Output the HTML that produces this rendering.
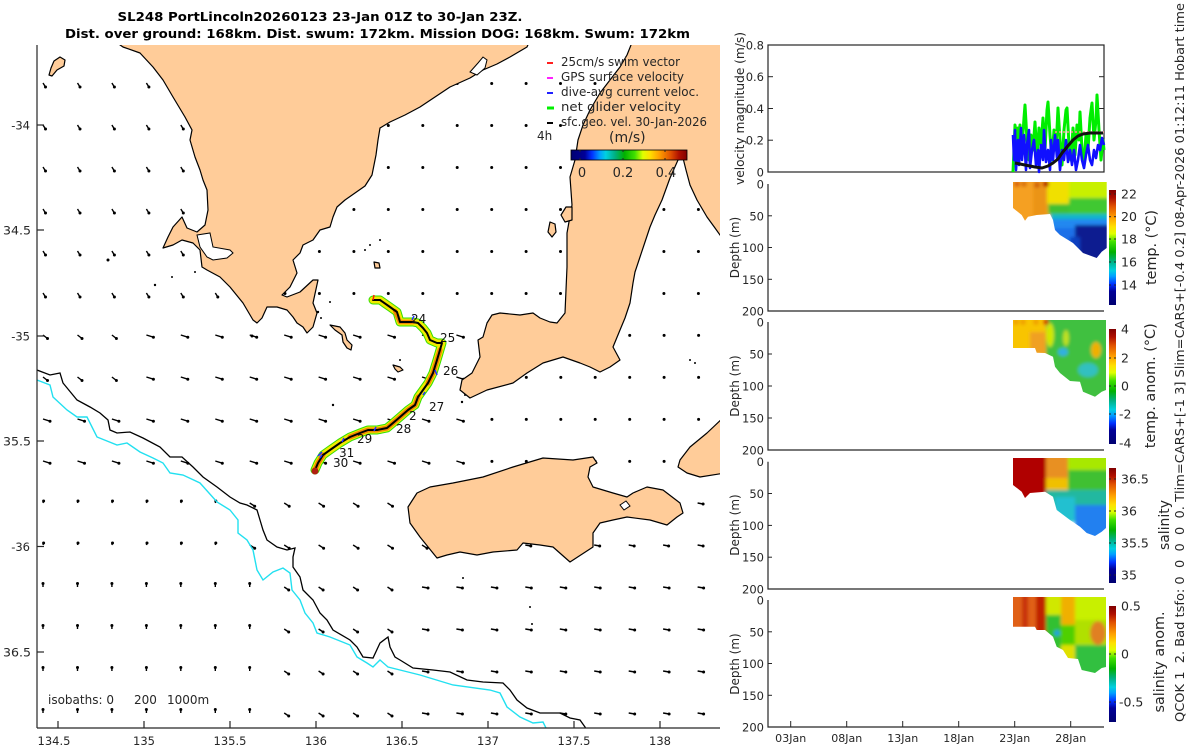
<!DOCTYPE html>
<html><head><meta charset="utf-8"><style>
html,body{margin:0;padding:0;background:#fff;}
svg{display:block;font-family:"DejaVu Sans","Liberation Sans",sans-serif;}
</style></head><body>
<svg width="1200" height="750" viewBox="0 0 1200 750" xmlns="http://www.w3.org/2000/svg">
<defs>
<linearGradient id="jetH" x1="0" x2="1" y1="0" y2="0">
<stop offset="0" stop-color="#000070"/><stop offset="0.12" stop-color="#000098"/><stop offset="0.18" stop-color="#0030ff"/><stop offset="0.25" stop-color="#00a0ff"/><stop offset="0.3" stop-color="#00d0e0"/><stop offset="0.38" stop-color="#00b080"/><stop offset="0.46" stop-color="#00b000"/><stop offset="0.55" stop-color="#40e000"/><stop offset="0.62" stop-color="#e0ff00"/><stop offset="0.68" stop-color="#ffe000"/><stop offset="0.76" stop-color="#ffa000"/><stop offset="0.86" stop-color="#e05000"/><stop offset="0.93" stop-color="#b01000"/><stop offset="1" stop-color="#800000"/>
</linearGradient>
<linearGradient id="jetV" x1="0" x2="0" y1="1" y2="0">
<stop offset="0" stop-color="#000070"/><stop offset="0.12" stop-color="#000098"/><stop offset="0.18" stop-color="#0030ff"/><stop offset="0.25" stop-color="#00a0ff"/><stop offset="0.3" stop-color="#00d0e0"/><stop offset="0.38" stop-color="#00b080"/><stop offset="0.46" stop-color="#00b000"/><stop offset="0.55" stop-color="#40e000"/><stop offset="0.62" stop-color="#e0ff00"/><stop offset="0.68" stop-color="#ffe000"/><stop offset="0.76" stop-color="#ffa000"/><stop offset="0.86" stop-color="#e05000"/><stop offset="0.93" stop-color="#b01000"/><stop offset="1" stop-color="#800000"/>
</linearGradient>
<clipPath id="mapclip"><rect x="37" y="45" width="683" height="683"/></clipPath>
<filter id="bl" x="-20%" y="-20%" width="140%" height="140%"><feGaussianBlur stdDeviation="1.6"/></filter>
<clipPath id="cT"><polygon points="1013,182 1013,208 1021.7,215 1025,220.7 1028,216.7 1036.7,215 1050,214 1053,220 1055,230 1060,235 1073,243 1083,253 1096.7,258 1101.7,251.7 1106.7,248 1106.7,182"/></clipPath>
<clipPath id="cTA"><polygon points="1013,320 1013,348 1035,348 1036.7,352.7 1045,353 1053,356.7 1055,366.7 1060,373 1070,381 1080,381.7 1083,391.7 1095,396.7 1101.7,391.7 1106,390 1106,320"/></clipPath>
<clipPath id="cS"><polygon points="1013,458 1013,485 1021.7,491.7 1025,498 1030,493 1045,491.7 1053,496.7 1056.7,510 1070,520 1080,526.7 1086.7,533 1095,536 1101.7,531.7 1106,528 1106,458"/></clipPath>
<clipPath id="cSA"><polygon points="1013,597 1013,626.7 1035,626.7 1036.7,630 1045,630 1053,636.7 1056.7,646.7 1063,650 1068,658 1078,659 1081.7,670 1095,673 1101.7,668 1106,667 1106,597"/></clipPath>
</defs>

<!-- Title -->
<text x="320" y="21" font-size="12.5" font-weight="bold" text-anchor="middle" fill="#000" textLength="405" lengthAdjust="spacingAndGlyphs">SL248 PortLincoln20260123 23-Jan 01Z to 30-Jan 23Z.</text>
<text x="377.5" y="38" font-size="12.5" font-weight="bold" text-anchor="middle" fill="#000" textLength="625" lengthAdjust="spacingAndGlyphs">Dist. over ground: 168km. Dist. swum: 172km. Mission DOG: 168km. Swum: 172km</text>

<!-- MAP -->
<g clip-path="url(#mapclip)">
<g id="arrows" stroke="#000" stroke-width="1.4" fill="#000"></g>

<g fill="#ffcc99" stroke="#000" stroke-width="1.2" stroke-linejoin="round">
<polygon points="113,40 530,40 527,47 510,57 497,64 483,70 470,78 450,87 435,97 420,107 405,115 390,122 380,128 378,140 376,155 372,175 365,186 355,193 345,200 337,207 333,217 330,227 320,230 313,240 303,245 300,253 293,260 297,273 290,287 282,295 287,297 300,292 313,280 318,280 313,303 317,313 313,327 307,333 303,327 297,323 293,317 287,310 277,307 267,307 262,318 257,323 253,320 243,303 230,287 220,277 207,270 202,267 200,250 193,243 182,240 173,245 163,248 168,237 173,227 182,217 187,228 197,232 205,225 208,210 207,190 203,180 200,170 195,157 190,140 192,130 185,117 173,97 163,80 153,67 140,53 123,47"/>
<polygon points="633,40 725,40 725,242 715,228 707,217 697,200 690,185 686,170 683,158 678,160 670,178 662,200 655,215 650,227 645,242 640,257 635,272 633,283 630,303 625,318 620,330 613,347 620,360 610,367 600,372 590,367 580,363 563,357 543,363 527,373 513,383 487,390 470,398 460,390 462,380 472,373 480,357 478,340 483,337 487,323 492,315 500,313 520,315 533,313 540,318 550,322 557,323 565,313 566,290 567,267 567,233 572,205 570,177 575,160 578,140 583,125 590,110 600,93 610,80 620,67 627,55"/>
<polygon points="725,416 707,433 690,447 680,460 678,467 687,473 700,477 725,473"/>
<polygon points="417,493 430,487 453,483 483,477 513,467 543,458 573,460 593,457 597,463 590,467 588,477 593,487 613,493 627,497 633,493 647,487 663,490 680,503 683,513 677,517 667,525 650,520 627,517 613,520 600,523 593,533 593,547 570,562 553,547 540,545 523,543 517,550 493,552 477,555 460,552 447,555 437,558 420,537 410,523 408,507"/>
<polygon points="60,57 65,60 64,66 57,70 52,76 49,75 51,68 54,61"/>
<polygon points="330,325 340,327 345,333 347,340 352,345 351,350 347,348 343,342 342,335 335,330"/>
<polygon points="393,365 400,367 403,370 398,372 395,369"/>
<polygon points="550,222 555,224 556,232 552,237 548,232"/>
<polygon points="561,215 566,207 572,207 572,220 565,222"/>
<polygon points="374,262 379,263 380,268 375,268"/>
</g>
<polygon points="197,235 210,233 213,247 230,250 233,253 227,258 213,260 207,257 200,247" fill="#fff" stroke="#000" stroke-width="1"/>
<polygon points="470,72 478,63 483,57 487,60 485,68 477,75" fill="#fff" stroke="#000" stroke-width="1"/>
<polygon points="620,505 626,501 630,506 624,510" fill="#fff" stroke="#000" stroke-width="1"/>
<g fill="#000">
<circle cx="318" cy="312" r="1.2"/><circle cx="321" cy="318" r="1"/><circle cx="330" cy="302" r="1"/><circle cx="365" cy="250" r="1"/><circle cx="370" cy="245" r="1"/><circle cx="380" cy="240" r="1"/><circle cx="333" cy="405" r="1.2"/><circle cx="400" cy="360" r="1"/><circle cx="462" cy="402" r="1.2"/><circle cx="465" cy="395" r="1"/><circle cx="155" cy="285" r="1.2"/><circle cx="172" cy="277" r="1"/><circle cx="195" cy="272" r="1"/><circle cx="108" cy="260" r="1.5"/><circle cx="252" cy="336" r="1.5"/><circle cx="530" cy="607" r="1"/><circle cx="532" cy="624" r="1"/><circle cx="463" cy="578" r="1"/><circle cx="690" cy="360" r="1"/><circle cx="695" cy="363" r="1"/>
</g>

<polyline fill="none" stroke="#000" stroke-width="1.3" points="30,368 37,370 50,375 60,373 63,383 77,400 90,407 100,413 108,420 110,430 117,433 130,432 143,438 160,447 170,457 182,457 193,467 203,477 217,487 230,497 240,503 247,505 257,510 260,520 263,530 267,540 277,547 287,550 295,548 293,557 293,567 300,577 303,590 313,600 320,613 327,620 333,630 350,640 357,647 363,657 373,658 380,643 388,637 390,647 395,657 400,660 413,668 433,670 450,672 467,680 483,682 503,683 510,690 517,700 527,708 540,713 553,713 560,713 570,718 580,720 585,727 590,735"/>
<polyline fill="none" stroke="#22e0f0" stroke-width="1.4" points="30,377 37,380 50,385 53,397 67,410 77,417 87,417 97,437 117,445 127,443 140,452 153,458 163,463 170,473 183,475 200,483 217,502 230,510 238,520 238,533 247,540 253,550 257,570 263,580 273,572 283,568 290,573 292,590 300,600 305,613 313,623 317,633 330,637 350,645 357,657 367,663 373,667 380,660 388,667 400,670 420,675 453,685 490,690 500,693 507,707 520,717 533,723 543,722 547,730"/>

<g fill="none" stroke-linejoin="round" stroke-linecap="round">
<polyline stroke="#30e000" stroke-width="9" points="373,300 380,300 390,307 397,312 400,322 405,322 413,322 418,323 423,328 427,333 430,340 437,343 442,343 437,360 433,373 428,383 423,390 418,397 415,405 408,410 400,417 393,423 387,428 377,430 368,430 360,433 350,437 340,443 330,450 323,455 318,463 315,470"/>
<polyline stroke="#f2e800" stroke-width="7" points="373,300 380,300 390,307 397,312 400,322 405,322 413,322 418,323 423,328 427,333 430,340 437,343 442,343 437,360 433,373 428,383 423,390 418,397 415,405 408,410 400,417 393,423 387,428 377,430 368,430 360,433 350,437 340,443 330,450 323,455 318,463 315,470"/>
<polyline stroke="#f08a00" stroke-width="4.5" points="395,311 400,322 405,322 413,322"/>
<polyline stroke="#f08a00" stroke-width="5" points="440,350 437,360 433,373 428,383"/>
<polyline stroke="#f08a00" stroke-width="5" points="418,397 415,405 408,410 400,417 393,423 387,428 377,430 368,430 360,433 350,437"/>
<polyline stroke="#f08a00" stroke-width="5" points="323,455 318,463 315,470"/>
<polyline stroke="#000" stroke-width="2" points="373,300 380,300 390,307 397,312 400,322 405,322 413,322 418,323 423,328 427,333 430,340 437,343 442,343 437,360 433,373 428,383 423,390 418,397 415,405 408,410 400,417 393,423 387,428 377,430 368,430 360,433 350,437 340,443 330,450 323,455 318,463 315,470"/>
</g>
<circle cx="315" cy="471" r="3.5" fill="#b02010"/>
<line x1="373" y1="300" x2="374" y2="295" stroke="#ff2000" stroke-width="1.5"/>
<g stroke="#2030ff" stroke-width="1.5"><line x1="412" y1="320" x2="414" y2="316"/><line x1="435" y1="370" x2="437" y2="375"/><line x1="423" y1="395" x2="425" y2="392"/><line x1="374" y1="431" x2="376" y2="427"/><line x1="342" y1="442" x2="344" y2="438"/><line x1="320" y1="458" x2="322" y2="455"/><line x1="318" y1="456" x2="322" y2="452"/></g>
<g font-size="12" fill="#111">
<text x="411" y="323">24</text><text x="440" y="342">25</text><text x="443" y="375">26</text><text x="429" y="411">27</text><text x="409" y="420">2</text><text x="396" y="433">28</text><text x="357" y="443">29</text><text x="339" y="457">31</text><text x="333" y="467">30</text>
</g>

<g font-size="12" fill="#262626">
<text x="561" y="66" textLength="119" lengthAdjust="spacingAndGlyphs">25cm/s swim vector</text>
<text x="561" y="81" textLength="123" lengthAdjust="spacingAndGlyphs">GPS surface velocity</text>
<text x="561" y="96" textLength="138" lengthAdjust="spacingAndGlyphs">dive-avg current veloc.</text>
<text x="561" y="111" textLength="120" lengthAdjust="spacingAndGlyphs">net glider velocity</text>
<text x="561" y="126" textLength="146" lengthAdjust="spacingAndGlyphs">sfc.geo. vel. 30-Jan-2026</text>
<text x="537" y="140">4h</text>
<text x="609" y="142" font-size="14">(m/s)</text>
</g>
<g stroke-width="2"><line x1="547" y1="63" x2="553" y2="63" stroke="#ff2020"/><line x1="547" y1="78" x2="553" y2="78" stroke="#ff20ff"/><line x1="547" y1="93" x2="553" y2="93" stroke="#2020ff"/><line x1="547" y1="108" x2="554" y2="108" stroke="#00f000" stroke-width="3"/><line x1="547" y1="123" x2="553" y2="123" stroke="#000"/></g>
<rect x="571" y="150" width="116" height="10" fill="url(#jetH)" stroke="#000" stroke-width="0.8"/>
<g stroke="#262626" stroke-width="1"><line x1="580" y1="150" x2="580" y2="152"/><line x1="623" y1="150" x2="623" y2="152"/><line x1="665" y1="150" x2="665" y2="152"/><line x1="580" y1="160" x2="580" y2="158"/><line x1="623" y1="160" x2="623" y2="158"/><line x1="665" y1="160" x2="665" y2="158"/></g>
<g font-size="13" fill="#262626" text-anchor="middle"><text x="582" y="177">0</text><text x="623" y="177">0.2</text><text x="666" y="177">0.4</text></g>

<g font-size="12" fill="#262626"><text x="48" y="704">isobaths: 0</text><text x="134" y="704">200</text><text x="167" y="704">1000m</text></g>
</g>

<g stroke="#262626" stroke-width="1.2">
<line x1="37" y1="45" x2="37" y2="728"/><line x1="37" y1="728" x2="720" y2="728"/>
<line x1="37" y1="125" x2="44" y2="125"/><line x1="37" y1="230" x2="44" y2="230"/><line x1="37" y1="336" x2="44" y2="336"/><line x1="37" y1="441" x2="44" y2="441"/><line x1="37" y1="546.5" x2="44" y2="546.5"/><line x1="37" y1="652" x2="44" y2="652"/>
<line x1="58" y1="728" x2="58" y2="721"/><line x1="144" y1="728" x2="144" y2="721"/><line x1="230" y1="728" x2="230" y2="721"/><line x1="316" y1="728" x2="316" y2="721"/><line x1="402" y1="728" x2="402" y2="721"/><line x1="488" y1="728" x2="488" y2="721"/><line x1="574" y1="728" x2="574" y2="721"/><line x1="660" y1="728" x2="660" y2="721"/>
</g>
<g font-size="11.5" fill="#262626">
<text x="30" y="129.5" text-anchor="end">-34</text>
<text x="3" y="234.5" textLength="28" lengthAdjust="spacingAndGlyphs">34.5</text>
<text x="30" y="340.5" text-anchor="end">-35</text>
<text x="3" y="445.5" textLength="28" lengthAdjust="spacingAndGlyphs">35.5</text>
<text x="30" y="551" text-anchor="end">-36</text>
<text x="3" y="656.5" textLength="28" lengthAdjust="spacingAndGlyphs">36.5</text>
</g>
<g font-size="11.5" fill="#262626" text-anchor="middle">
<text x="54" y="745">134.5</text><text x="144" y="745">135</text><text x="230" y="745">135.5</text><text x="316" y="745">136</text><text x="402" y="745">136.5</text><text x="488" y="745">137</text><text x="574" y="745">137.5</text><text x="660" y="745">138</text>
</g>

<!-- RIGHT PANELS -->
<rect x="768" y="45" width="336" height="127" fill="none" stroke="#262626" stroke-width="1.2"/>
<g stroke="#262626" stroke-width="1"><line x1="768" y1="140.2" x2="773" y2="140.2"/><line x1="768" y1="108.5" x2="773" y2="108.5"/><line x1="768" y1="76.7" x2="773" y2="76.7"/><line x1="1104" y1="140.2" x2="1099" y2="140.2"/><line x1="1104" y1="108.5" x2="1099" y2="108.5"/><line x1="1104" y1="76.7" x2="1099" y2="76.7"/></g>
<g font-size="11.5" fill="#262626" text-anchor="end"><text x="764" y="49.5">0.8</text><text x="764" y="81.2">0.6</text><text x="764" y="113">0.4</text><text x="764" y="144.7">0.2</text><text x="764" y="176.5">0</text></g>
<text transform="translate(744,108.5) rotate(-90)" font-size="12" fill="#262626" text-anchor="middle" textLength="153" lengthAdjust="spacingAndGlyphs">velocity magnitude (m/s)</text>
<polyline fill="none" stroke="#00ee00" stroke-width="3" stroke-linejoin="round" points="1013,172 1014,150 1015,125 1017,140 1018,128 1019,152 1020,125 1022,148 1024,118 1025,105 1027,140 1029,160 1031,135 1033,150 1035,122 1037,158 1039,128 1041,145 1043,118 1045,150 1047,110 1048,102 1050,135 1052,160 1054,130 1056,150 1058,108 1060,140 1062,165 1064,130 1066,110 1067,108 1069,145 1071,160 1073,128 1075,155 1077,125 1079,140 1080,112 1082,150 1084,162 1086,135 1088,150 1090,118 1092,103 1094,140 1096,120 1097,95 1099,130 1101,160 1103,140 1104,150"/>
<line x1="1055" y1="132" x2="1104" y2="132" stroke="#ff9090" stroke-width="1.5" stroke-dasharray="2,2"/>
<polyline fill="none" stroke="#1010ff" stroke-width="2.6" stroke-linejoin="round" points="1013,135 1014,160 1015,130 1016,170 1018,140 1019,165 1021,128 1022,160 1024,135 1026,170 1027,145 1029,130 1030,168 1032,150 1034,140 1036,165 1038,150 1039,172 1041,145 1043,160 1044,130 1046,162 1048,150 1050,170 1051,140 1053,160 1055,135 1057,158 1058,140 1060,170 1062,150 1064,160 1066,140 1068,162 1070,150 1072,165 1074,150 1076,170 1078,160 1080,145 1082,160 1084,168 1086,155 1088,145 1090,160 1092,165 1094,150 1096,158 1098,145 1100,150 1102,138 1104,145"/>
<polyline fill="none" stroke="#111" stroke-width="3" stroke-linejoin="round" points="1015,163 1025,165 1035,167 1042,168 1048,166 1053,163 1058,159 1062,153 1067,147 1073,140 1078,136 1083,134 1090,133 1103,133"/>

<g stroke="#262626" stroke-width="1.2" fill="none">
<polyline points="768,184 768,311 1104,311"/>
<polyline points="768,322 768,450 1104,450"/>
<polyline points="768,461.7 768,589 1104,589"/>
<polyline points="768,600 768,727 1104,727"/>
</g>
<g stroke="#262626" stroke-width="1">
<line x1="768" y1="215.8" x2="772" y2="215.8"/><line x1="768" y1="247.5" x2="772" y2="247.5"/><line x1="768" y1="279.3" x2="772" y2="279.3"/>
<line x1="768" y1="354" x2="772" y2="354"/><line x1="768" y1="386" x2="772" y2="386"/><line x1="768" y1="418" x2="772" y2="418"/>
<line x1="768" y1="493.5" x2="772" y2="493.5"/><line x1="768" y1="525.4" x2="772" y2="525.4"/><line x1="768" y1="557.2" x2="772" y2="557.2"/>
<line x1="768" y1="631.8" x2="772" y2="631.8"/><line x1="768" y1="663.5" x2="772" y2="663.5"/><line x1="768" y1="695.3" x2="772" y2="695.3"/>
<line x1="790.7" y1="727" x2="790.7" y2="721"/><line x1="846.7" y1="727" x2="846.7" y2="721"/><line x1="902.7" y1="727" x2="902.7" y2="721"/><line x1="958.7" y1="727" x2="958.7" y2="721"/><line x1="1014.7" y1="727" x2="1014.7" y2="721"/><line x1="1070.7" y1="727" x2="1070.7" y2="721"/>
</g>
<g font-size="11.5" fill="#262626" text-anchor="end">
<text x="764" y="188.5">0</text><text x="764" y="220.3">50</text><text x="764" y="252">100</text><text x="764" y="283.8">150</text><text x="764" y="315.5">200</text>
<text x="764" y="326.5">0</text><text x="764" y="358.5">50</text><text x="764" y="390.5">100</text><text x="764" y="422.5">150</text><text x="764" y="454.5">200</text>
<text x="764" y="466.2">0</text><text x="764" y="498">50</text><text x="764" y="529.9">100</text><text x="764" y="561.7">150</text><text x="764" y="593.5">200</text>
<text x="764" y="604.5">0</text><text x="764" y="636.3">50</text><text x="764" y="668">100</text><text x="764" y="699.8">150</text><text x="764" y="731.5">200</text>
</g>
<g font-size="12" fill="#262626" text-anchor="middle">
<text transform="translate(739,247.5) rotate(-90)">Depth (m)</text>
<text transform="translate(739,386) rotate(-90)">Depth (m)</text>
<text transform="translate(739,525) rotate(-90)">Depth (m)</text>
<text transform="translate(739,664) rotate(-90)">Depth (m)</text>
</g>
<g font-size="11" fill="#262626" text-anchor="middle">
<text x="790.7" y="742" textLength="31" lengthAdjust="spacingAndGlyphs">03Jan</text><text x="846.7" y="742" textLength="31" lengthAdjust="spacingAndGlyphs">08Jan</text><text x="902.7" y="742" textLength="31" lengthAdjust="spacingAndGlyphs">13Jan</text><text x="958.7" y="742" textLength="31" lengthAdjust="spacingAndGlyphs">18Jan</text><text x="1014.7" y="742" textLength="31" lengthAdjust="spacingAndGlyphs">23Jan</text><text x="1070.7" y="742" textLength="31" lengthAdjust="spacingAndGlyphs">28Jan</text>
</g>

<g clip-path="url(#cT)"><g filter="url(#bl)">
<rect x="1000" y="170" width="120" height="100" fill="#f5a020"/>
<rect x="1033" y="170" width="14" height="50" fill="#eb9418"/>
<rect x="1047" y="170" width="22" height="34" fill="#f0e000"/>
<rect x="1069" y="170" width="50" height="28" fill="#c8f000"/>
<rect x="1048" y="204" width="22" height="10" fill="#40c030"/>
<rect x="1069" y="198" width="50" height="17" fill="#40c830"/>
<rect x="1050" y="214" width="70" height="6" fill="#10b8c8"/>
<rect x="1050" y="219" width="70" height="12" fill="#2088f0"/>
<rect x="1053" y="228" width="22" height="20" fill="#1a70e8"/>
<rect x="1075" y="225" width="45" height="45" fill="#0a1a90"/>
<rect x="1070" y="237" width="10" height="15" fill="#1040c0"/>
<circle cx="1017" cy="184" r="3" fill="#d86010"/><circle cx="1024" cy="184" r="3" fill="#d87010"/><circle cx="1037" cy="185" r="3" fill="#d06010"/><circle cx="1046" cy="184" r="3" fill="#b01000"/>
</g></g>
<g clip-path="url(#cTA)"><g filter="url(#bl)">
<rect x="1000" y="310" width="47" height="60" fill="#f8c400"/>
<rect x="1030" y="332" width="16" height="25" fill="#f0a020"/>
<rect x="1046" y="310" width="80" height="100" fill="#40c040"/>
<ellipse cx="1050" cy="335" rx="4" ry="12" fill="#d0e800"/>
<ellipse cx="1066" cy="338" rx="3" ry="8" fill="#c0e020"/>
<ellipse cx="1096" cy="350" rx="5" ry="8" fill="#f0b000"/>
<ellipse cx="1063" cy="352" rx="5" ry="4" fill="#30b0e0"/>
<ellipse cx="1088" cy="370" rx="10" ry="7" fill="#30c0c0"/>
<circle cx="1016" cy="322" r="3" fill="#f0a000"/><circle cx="1023" cy="322" r="3" fill="#f0a000"/><circle cx="1036" cy="322" r="3" fill="#f0a000"/><circle cx="1046" cy="322" r="3" fill="#d04000"/>
</g></g>
<g clip-path="url(#cS)"><g filter="url(#bl)">
<rect x="1000" y="450" width="46" height="90" fill="#b00000"/>
<rect x="1046" y="450" width="22" height="28" fill="#e89020"/>
<rect x="1046" y="478" width="22" height="16" fill="#f0c000"/>
<rect x="1068" y="450" width="50" height="20" fill="#a8e800"/>
<rect x="1068" y="470" width="50" height="20" fill="#40c030"/>
<rect x="1046" y="490" width="72" height="20" fill="#20b8a0"/>
<rect x="1055" y="497" width="20" height="25" fill="#20c0d0"/>
<rect x="1075" y="505" width="45" height="35" fill="#2080f0"/>
</g></g>
<g clip-path="url(#cSA)"><g filter="url(#bl)">
<rect x="1000" y="590" width="46" height="45" fill="#e06018"/>
<rect x="1022" y="590" width="6" height="40" fill="#c83010"/>
<rect x="1036" y="590" width="10" height="45" fill="#c02000"/>
<rect x="1046" y="590" width="15" height="25" fill="#d0e800"/>
<rect x="1046" y="615" width="15" height="40" fill="#30c030"/>
<circle cx="1057" cy="633" r="3" fill="#20a0e0"/>
<rect x="1061" y="590" width="14" height="35" fill="#f0b000"/>
<rect x="1061" y="625" width="14" height="20" fill="#50d000"/>
<rect x="1061" y="645" width="16" height="18" fill="#e0e000"/>
<rect x="1075" y="590" width="45" height="30" fill="#c8f000"/>
<rect x="1075" y="620" width="45" height="25" fill="#b0e000"/>
<ellipse cx="1098" cy="633" rx="8" ry="12" fill="#e08020"/>
<rect x="1075" y="645" width="45" height="35" fill="#30c040"/>
</g></g>

<rect x="1109" y="190" width="7" height="115" fill="url(#jetV)"/>
<rect x="1109" y="329" width="7" height="115" fill="url(#jetV)"/>
<rect x="1109" y="468" width="7" height="115" fill="url(#jetV)"/>
<rect x="1109" y="606" width="7" height="116" fill="url(#jetV)"/>
<g stroke="#262626" stroke-width="1">
<line x1="1109" y1="194" x2="1111" y2="194"/><line x1="1109" y1="216.7" x2="1111" y2="216.7"/><line x1="1109" y1="239" x2="1111" y2="239"/><line x1="1109" y1="262" x2="1111" y2="262"/><line x1="1109" y1="285" x2="1111" y2="285"/>
<line x1="1114" y1="194" x2="1116" y2="194"/><line x1="1114" y1="216.7" x2="1116" y2="216.7"/><line x1="1114" y1="239" x2="1116" y2="239"/><line x1="1114" y1="262" x2="1116" y2="262"/><line x1="1114" y1="285" x2="1116" y2="285"/>
<line x1="1109" y1="358" x2="1111" y2="358"/><line x1="1109" y1="386" x2="1111" y2="386"/><line x1="1109" y1="414" x2="1111" y2="414"/>
<line x1="1114" y1="358" x2="1116" y2="358"/><line x1="1114" y1="386" x2="1116" y2="386"/><line x1="1114" y1="414" x2="1116" y2="414"/>
<line x1="1109" y1="479" x2="1111" y2="479"/><line x1="1109" y1="511" x2="1111" y2="511"/><line x1="1109" y1="543" x2="1111" y2="543"/><line x1="1109" y1="575" x2="1111" y2="575"/>
<line x1="1114" y1="479" x2="1116" y2="479"/><line x1="1114" y1="511" x2="1116" y2="511"/><line x1="1114" y1="543" x2="1116" y2="543"/><line x1="1114" y1="575" x2="1116" y2="575"/>
<line x1="1109" y1="654" x2="1111" y2="654"/><line x1="1109" y1="702" x2="1111" y2="702"/>
<line x1="1114" y1="654" x2="1116" y2="654"/><line x1="1114" y1="702" x2="1116" y2="702"/>
</g>
<g font-size="12.5" fill="#262626">
<text x="1121" y="198.5">22</text><text x="1121" y="221.2">20</text><text x="1121" y="243.5">18</text><text x="1121" y="266.5">16</text><text x="1121" y="289.5">14</text>
<text x="1121" y="333.5">4</text><text x="1121" y="362.5">2</text><text x="1121" y="390.5">0</text><text x="1119" y="418.5">-2</text><text x="1119" y="447.5">-4</text>
<text x="1121" y="483.5">36.5</text><text x="1121" y="515.5">36</text><text x="1121" y="547.5">35.5</text><text x="1121" y="579.5">35</text>
<text x="1121" y="610.5">0.5</text><text x="1121" y="658.5">0</text><text x="1119" y="706.5">-0.5</text>
</g>
<g font-size="14" fill="#262626" text-anchor="middle">
<text transform="translate(1156,247.5) rotate(-90)" textLength="75" lengthAdjust="spacingAndGlyphs">temp. (°C)</text>
<text transform="translate(1155,385.8) rotate(-90)" textLength="125" lengthAdjust="spacingAndGlyphs">temp. anom. (°C)</text>
<text transform="translate(1169,525) rotate(-90)" textLength="50" lengthAdjust="spacingAndGlyphs">salinity</text>
<text transform="translate(1164,662) rotate(-90)" textLength="101" lengthAdjust="spacingAndGlyphs">salinity anom.</text>
</g>
<text transform="translate(1184,362.5) rotate(-90)" font-size="12.5" fill="#262626" text-anchor="middle" textLength="719" lengthAdjust="spacingAndGlyphs">QCOK 1&#160; 2. Bad tsfo: 0&#160; 0&#160; 0&#160; 0&#160; 0. Tlim=CARS+[-1 3] Slim=CARS+[-0.4 0.2] 08-Apr-2026 01:12:11 Hobart time</text>
</svg>
<script>
(function(){
function dir(x,y){
 if(y<300){ if(x<230) return [2.5,4]; return [0.8,0.5]; }
 if(y<480){
   if(x<130 && y<400) return [4.5,3.5];
   if(x<470) return [7,2.2];
   return [1,0.4];
 }
 if(y<560){
   if(x<230) return [0.6,-2];
   if(x<480) return [5,3.2];
   return [5.5,1];
 }
 if(x<270) return [0,-3.5];
 if(x<420) return [4.5,3];
 return [6,1];
}
var s='';
for(var i=0;i<20;i++){for(var j=0;j<16;j++){
 var x=43+i*34.45,y=83+j*42,d=dir(x,y);
 var x2=(x+d[0]).toFixed(1),y2=(y+d[1]).toFixed(1);
 s+='<line x1="'+x.toFixed(1)+'" y1="'+y+'" x2="'+x2+'" y2="'+y2+'"/><circle cx="'+x2+'" cy="'+y2+'" r="1.5" stroke="none"/>';
}}
var g=document.getElementById('arrows');
g.innerHTML=s;
})();
</script>
</body></html>
